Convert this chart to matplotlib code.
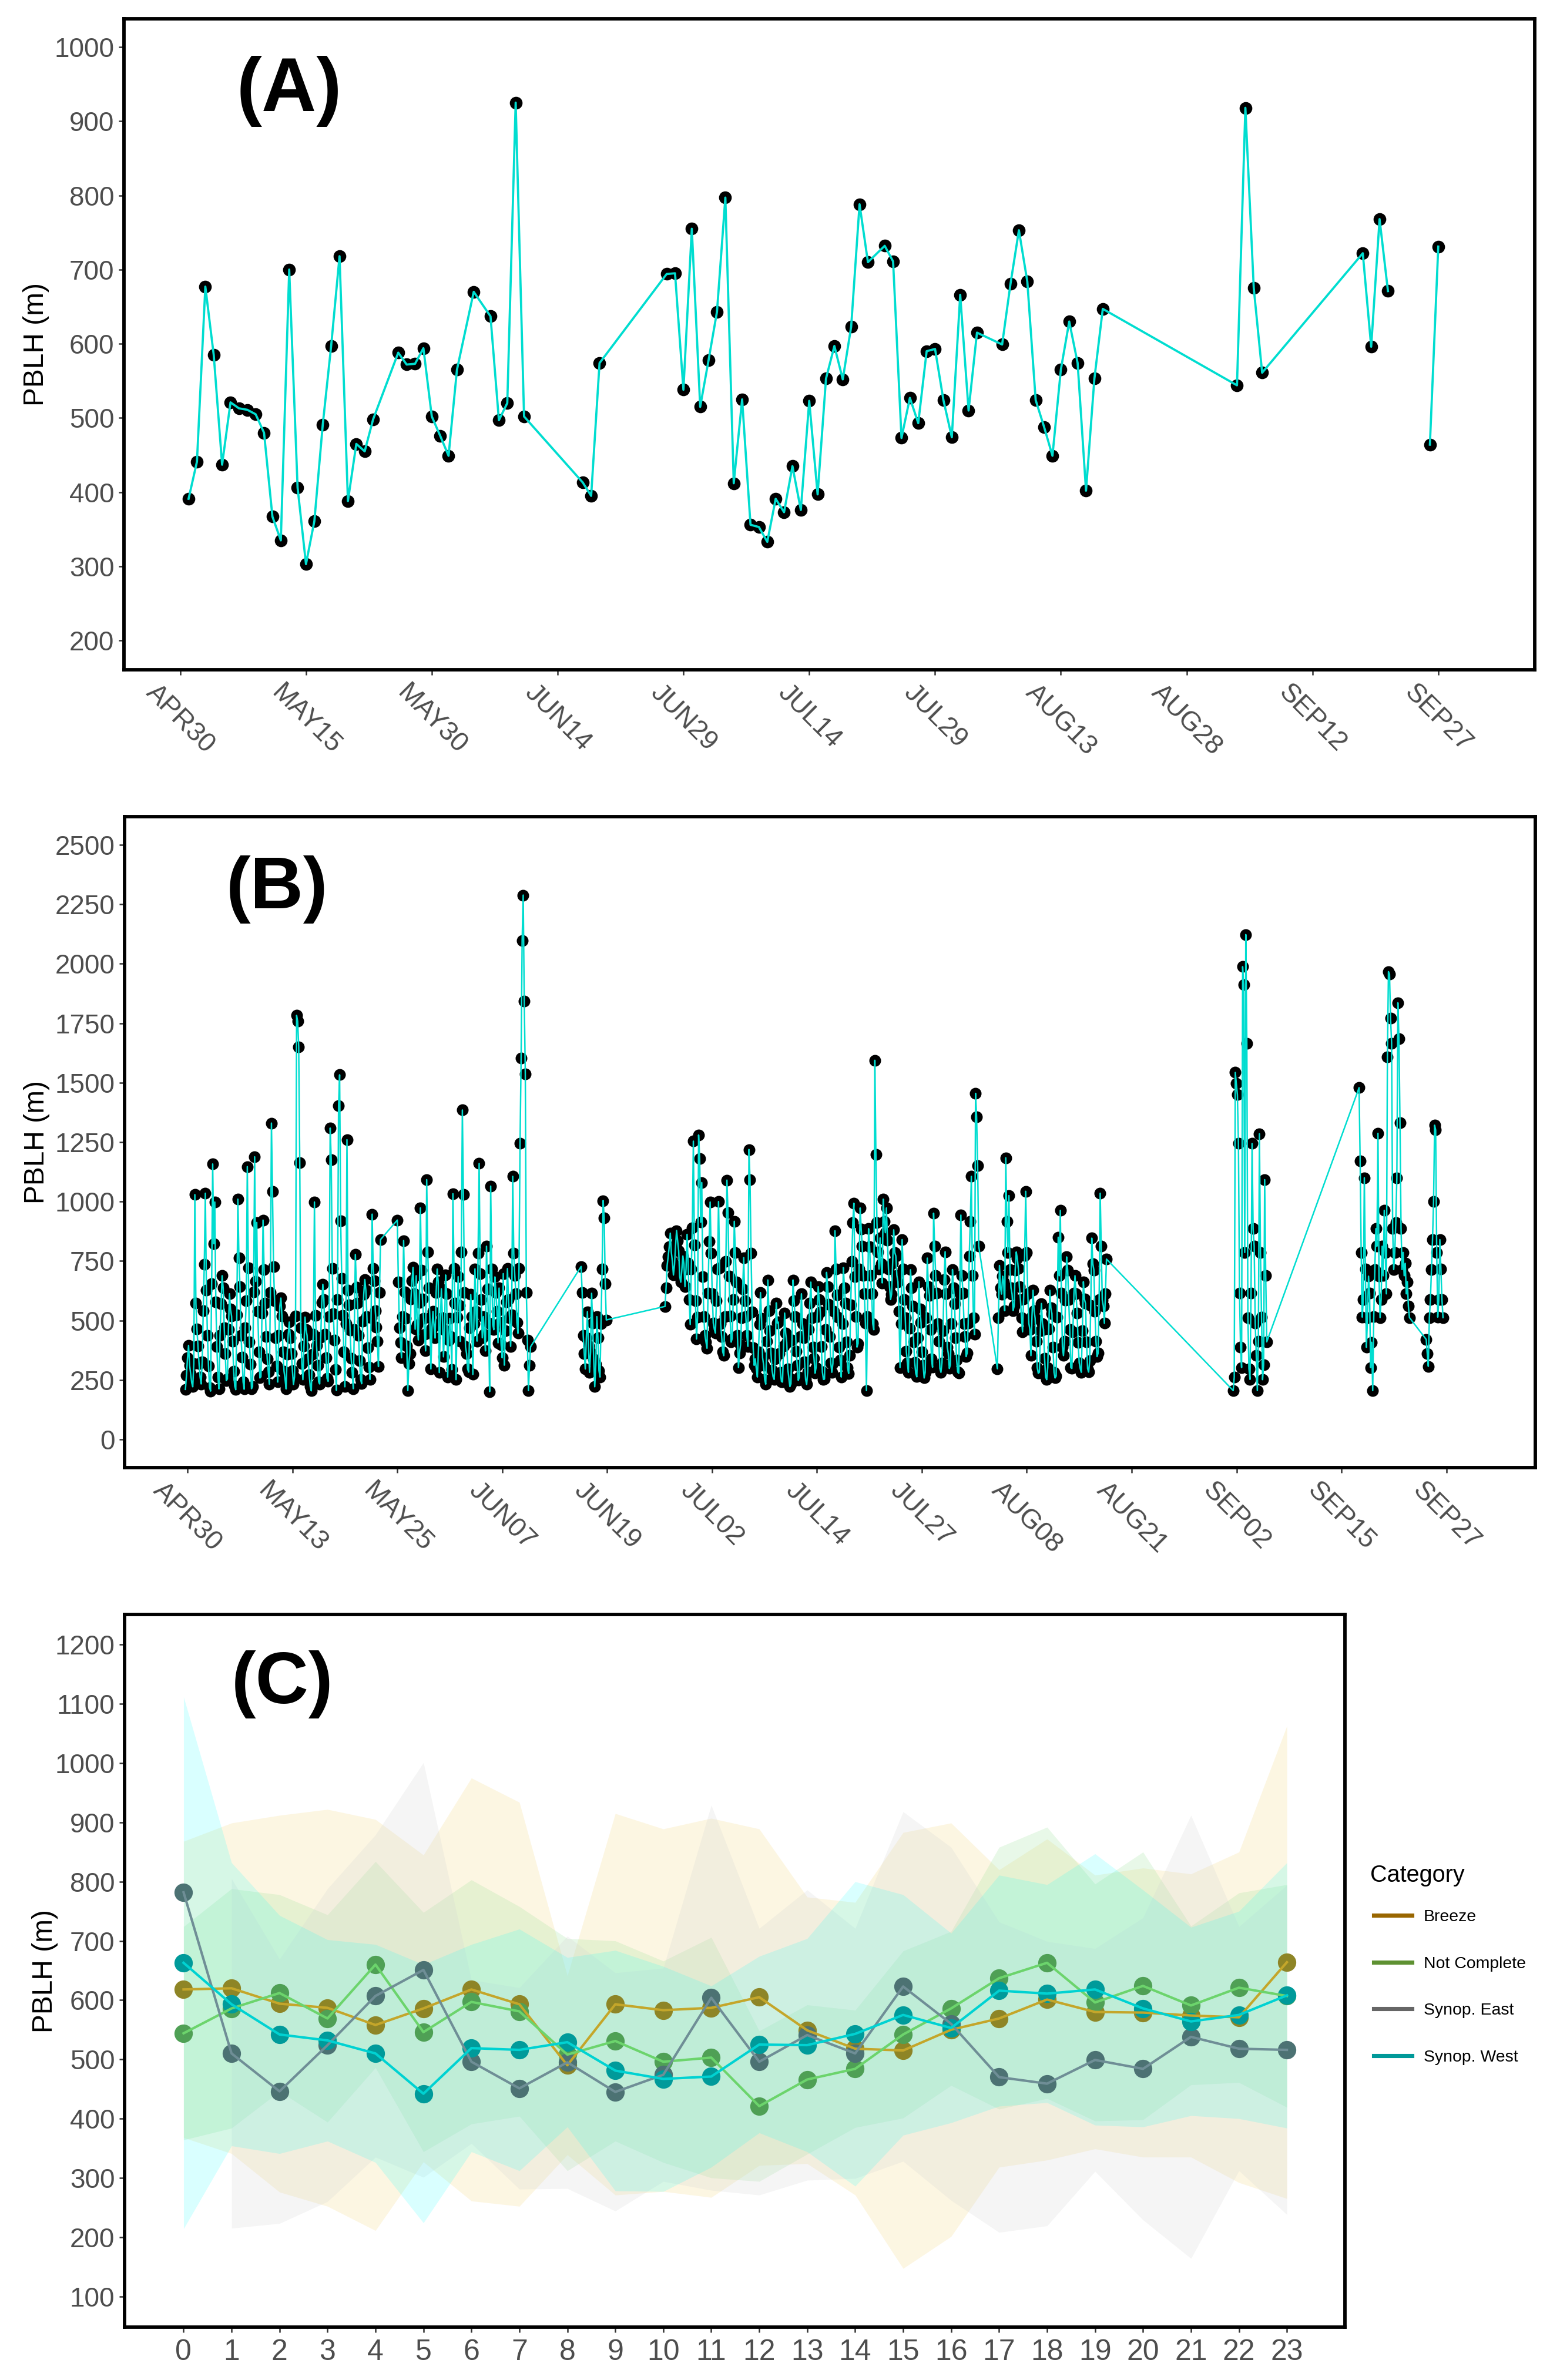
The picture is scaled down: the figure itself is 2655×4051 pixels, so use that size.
import numpy as np
import matplotlib
matplotlib.use('Agg')
import matplotlib.pyplot as plt
from matplotlib.lines import Line2D

plt.rcParams['font.family'] = ['Liberation Sans', 'DejaVu Sans']

W, H, DPI = 2655, 4051, 300

# ---------------- panel A: daily PBLH (days after APR30) ----------------
a_day = [1, 2, 3, 4, 5, 6, 7, 8, 9, 10, 11, 12, 13, 14, 15, 16, 17, 18, 19, 20, 21, 22, 23,
         26, 27, 28, 29, 30, 31, 32, 33,
         35, 37, 38, 39, 40, 41,
         48, 49, 50,
         58, 59, 60, 61, 62, 63, 64, 65, 66, 67, 68, 69, 70, 71, 72, 73, 74, 75, 76, 77, 78,
         79, 80, 81, 82,
         84, 85, 86, 87, 88, 89, 90, 91, 92, 93, 94, 95,
         98, 99, 100, 101, 102, 103, 104, 105, 106, 107, 108, 109, 110,
         126, 127, 128, 129,
         141, 142, 143, 144, 146,
         149, 150]
a_pblh = [391, 441, 677, 585, 437, 521, 513, 511, 505, 480, 367, 335, 700, 406, 303, 361, 491, 597,
          718, 388, 465, 455, 498,
          588, 572, 573, 594, 502, 476, 449, 565,
          670, 637, 497, 520, 925, 502,
          413, 395, 574,
          694, 695, 538, 755, 515, 578, 643, 797, 412, 525, 356, 353, 333, 391, 373, 435, 376,
          523, 397, 553, 597, 552, 623, 788, 710,
          732, 711, 473, 527, 493, 590, 593, 524, 474, 666, 510, 615,
          599, 681, 753, 684, 524, 488, 449, 565, 630, 574, 402, 553, 647,
          544, 918, 675, 561,
          722, 596, 768, 671, np.nan,
          464, 731]
a_tick_labels = ['APR30', 'MAY15', 'MAY30', 'JUN14', 'JUN29', 'JUL14', 'JUL29',
                 'AUG13', 'AUG28', 'SEP12', 'SEP27']

# ---------------- panel B: 3-hourly PBLH, one list per block of data ----------------
b_seg1 = [210, 268, 342, 395, 311, 276, 238, 221,
          318, 1029, 572, 463, 392, 318, 262, 233,
          327, 541, 736, 1035, 628, 436, 308, 218,
          203, 655, 1158, 823, 998, 577, 389, 262,
          212, 437, 571, 688, 636, 469, 361, 247,
          254, 461, 612, 547, 518, 413, 287, 224,
          209, 523, 1010, 764, 642, 437, 346, 241,
          211, 468, 583, 1147, 721, 409, 316, 213,
          222, 621, 1188, 664, 912, 538, 367, 258,
          263, 531, 922, 713, 574, 432, 337, 283,
          232, 617, 1330, 1043, 726, 583, 427, 309,
          241, 436, 561, 594, 519, 368, 287, 253,
          212, 358, 441, 493, 428, 361, 289, 231,
          262, 519, 1783, 1758, 1651, 1164, 468, 318,
          251, 392, 514, 461, 437, 339, 271, 223,
          204, 357, 443, 998, 521, 396, 312, 242,
          233, 429, 576, 652, 587, 441, 343, 257,
          244, 516, 1309, 1176, 719, 528, 416, 293,
          206, 588, 1404, 1533, 918, 676, 522, 368,
          221, 487, 1260, 627, 566, 459, 341, 281,
          213, 462, 777, 639, 573, 438, 331, 252,
          234, 496, 611, 672, 628, 517, 384, 303,
          252, 511, 947, 718, 667, 541, 472, 413,
          306, 618, 840]
b_seg2 = [922, 663, 468, 407,
          343, 517, 836, 621, 509, 392, 205, 318,
          361, 589, 668, 723, 612, 463, 688, 482,
          418, 576, 973, 711, 589, 508, 441, 372,
          1092, 788, 637, 512, 296, 467, 538, 476,
          426, 617, 716, 663, 281, 489, 633, 512,
          347, 459, 691, 612, 262, 417, 508, 431,
          293, 1033, 718, 573, 251, 514, 684, 562,
          412, 788, 1385, 1029, 617, 389, 361, 296,
          283, 468, 609, 517, 273, 486, 717, 539,
          413, 783, 1160, 696, 587, 427, 516, 441,
          372, 812, 633, 489, 201, 1065, 716, 482,
          461, 683, 617, 538, 406, 636, 492, 397,
          343, 697, 312, 458, 577, 718, 587, 511,
          391, 523, 1106, 782, 688, 612, 491, 446,
          718, 1246, 1604, 2098, 2289, 1844, 1537, 618,
          417, 205, 312, 389]
b_seg3 = [727, 618, 437, 361, 296, 426, 537, 392, 282, 366, 614, 488, 338, 221, 317, 516,
          427, 289, 262, 487, 716, 1004, 932, 655, 502]
b_seg4 = [559, 638, 731, 769, 810, 867, 786, 748,
          691, 733, 812, 878, 836, 793, 684, 661,
          712, 771, 738, 642, 716, 862, 741, 588,
          483, 716, 889, 1254, 817, 583, 422, 514,
          1280, 1182, 913, 1080, 684, 517, 438, 411,
          383, 616, 833, 998, 784, 612, 489, 463,
          447, 583, 716, 1000, 721, 486, 431, 368,
          352, 517, 748, 1090, 953, 686, 518, 409,
          423, 588, 917, 786, 663, 437, 302, 362,
          398, 512, 631, 764, 583, 516, 436, 391,
          1219, 1092, 783, 537, 386, 311, 338, 298,
          262, 367, 484, 617, 508, 343, 312, 251,
          232, 412, 670, 541, 456, 362, 291, 263,
          252, 338, 574, 489, 493, 361, 282, 243,
          241, 393, 531, 447, 408, 296, 258, 222,
          233, 417, 670, 584, 516, 371, 311, 248,
          261, 431, 612, 486, 427, 327, 252, 231,
          283, 462, 573, 661, 512, 388, 341, 278,
          302, 516, 642, 587, 536, 389, 283, 252,
          253, 461, 702, 641, 569, 431, 321, 282,
          318, 539, 877, 716, 607, 514, 387, 332,
          262, 486, 722, 638, 574, 411, 302, 277,
          352, 566, 748, 912, 993, 683, 516, 388,
          403, 716, 973, 884, 812, 688, 613, 489,
          205, 517, 886, 811, 688, 612, 486, 461,
          1594, 1197, 912, 788, 716, 847, 739, 658,
          1010, 917, 869, 973, 838, 716, 641, 588,
          611, 742, 881, 786, 771, 689, 663, 538,
          302, 486, 840, 716, 588, 512, 371, 322,
          282, 466, 713, 638, 561, 409, 323, 278,
          263, 427, 663, 549, 491, 368, 312, 258,
          282, 511, 762, 641, 606, 462, 339, 303,
          951, 812, 688, 614, 487, 412, 298, 282,
          322, 458, 671, 789, 612, 388, 361, 298,
          313, 486, 714, 637, 571, 427, 332, 283,
          278, 612, 943, 688, 616, 487, 432, 348,
          363, 489, 771, 916, 1106, 688, 512, 441,
          1455, 1356, 1152, 813]
b_seg5 = [297, 512, 731, 638, 611, 686, 662, 541,
          1184, 916, 786, 1025, 714, 637, 611, 542,
          560, 712, 788, 761, 718, 641, 588, 512,
          452, 589, 773, 1043, 786, 612, 488, 461,
          352, 516, 627, 541, 509, 412, 302, 278,
          282, 458, 571, 487, 462, 341, 262, 251,
          302, 464, 627, 552, 529, 388, 282, 258,
          266, 514, 850, 688, 963, 614, 388, 352,
          413, 586, 767, 711, 588, 462, 302, 298,
          452, 614, 688, 612, 531, 408, 322, 297,
          282, 458, 663, 589, 572, 411, 297, 283,
          330, 562, 846, 738, 712, 539, 412, 348,
          362, 588, 1035, 812, 586, 561, 488, 612,
          758]
b_seg6 = [205, 262, 1543, 1496, 1449, 1244, 616, 387, 302, 1988, 1912, 786, 2123, 1666, 512,
          297, 252, 614, 1244, 886, 812, 488, 352, 205, 413, 1285, 786, 514, 251, 313, 1092,
          688, 410]
b_seg7 = [1479, 1172, 786, 514, 588, 1100, 716, 387, 512, 686, 614, 302, 408, 205, 516, 714,
          886, 812, 1287, 686, 512, 588, 812, 688, 963, 786, 612, 1608, 1967, 1957, 1772, 1666,
          886, 714, 786, 912, 1100, 1836, 1686, 1332, 886, 714, 786, 688, 740, 612, 663, 560,
          512]
b_seg8 = [420, 361, 307, 512, 588, 714, 840, 1000, 1321, 1301, 786, 514, 588, 840, 716, 588,
          512]
b_start = [0.25, 25.5, 47.4, 57.4, 97.0, 125.1, 140.1, 148.1]
b_step = 0.125
b_tick_labels = ['APR30', 'MAY13', 'MAY25', 'JUN07', 'JUN19', 'JUL02', 'JUL14', 'JUL27',
                 'AUG08', 'AUG21', 'SEP02', 'SEP15', 'SEP27']

# ---------------- panel C: hourly mean +- sd per category ----------------
hours = list(range(24))
categories = ['Breeze', 'Not Complete', 'Synop. East', 'Synop. West']
mean_breeze = [618, 620, 594, 587, 558, 586, 618, 593, 490, 593, 583, 587, 605, 549, 518, 515,
               550, 569, 601, 580, 579, 574, 571, 664]
sd_breeze = [250, 279, 318, 335, 347, 259, 357, 341, 151, 322, 306, 320, 284, 225, 247, 368,
             349, 251, 271, 231, 244, 239, 279, 399]
mean_notc = [544, 586, 612, 569, 660, 546, 597, 581, 508, 531, 496, 503, 421, 466, 484, 542,
             586, 637, 663, 596, 624, 591, 621, 607]
sd_notc = [180, 202, 166, 175, 174, 202, 206, 177, 196, 169, 170, 203, 127, 126, 99, 141,
           130, 221, 229, 200, 226, 134, 160, 188]
mean_east = [782, 510, 446, 524, 607, 651, 496, 451, 495, 445, 474, 604, 496, 541, 510, 623,
             560, 470, 459, 499, 484, 538, 518, 516]
sd_east = [np.nan, 295, 223, 264, 272, 350, 138, 170, 213, 201, 180, 325, 225, 245, 211, 295,
           298, 262, 240, 188, 255, 374, 206, 278]
mean_west = [663, 593, 542, 532, 510, 442, 519, 516, 529, 481, 467, 471, 525, 524, 543, 575,
             553, 616, 611, 618, 586, 564, 575, 608]
sd_west = [449, 239, 201, 170, 184, 218, 175, 204, 143, 203, 190, 153, 149, 180, 257, 203,
           160, 195, 184, 229, 200, 159, 175, 224]

legend_colors = ['#996600', '#5E9132', '#666666', '#009999']
line_colors = ['#C4A62A', '#6CD46C', '#6F8E96', '#00D2D2']
point_colors = ['#8E8526', '#4FA055', '#4C7273', '#009A9A']
fill_colors = ['#F7DC8F', '#8EE08E', '#D2D2D2', '#00FFFF']
fill_alpha = [0.25, 0.2, 0.22, 0.15]

CYAN = '#00DDD0'
TICK_GREY = '#4D4D4D'


def px_axes(fig, left, top, right, bottom):
    return fig.add_axes([left / W, 1 - bottom / H, (right - left) / W, (bottom - top) / H])


def style(ax):
    for s in ax.spines.values():
        s.set_linewidth(1.4)
        s.set_color('black')
    ax.tick_params(direction='out', length=2.2, width=0.6, color='#333333',
                   labelcolor=TICK_GREY, labelsize=11, pad=1.8)


fig = plt.figure(figsize=(W / DPI, H / DPI), dpi=DPI)

# ---- (A) ----
axA = px_axes(fig, 211, 32, 2612, 1140)
axA.plot(a_day, a_pblh, 'o', ms=4.2, color='black', zorder=2)
axA.plot(a_day, a_pblh, color=CYAN, lw=0.9, zorder=3)
axA.set_xlim(-6.7, 161.5)
axA.set_ylim(160.6, 1038)
axA.set_yticks(range(200, 1001, 100))
axA.set_xticks(np.arange(0, 151, 15))
axA.set_xticklabels(a_tick_labels, rotation=-45, ha='center', va='top', fontsize=13)
style(axA)
axA.set_ylabel('PBLH (m)', fontsize=11.5)
axA.yaxis.set_label_coords(-0.053, 0.5)
axA.text(0.08, 0.858, '(A)', transform=axA.transAxes, fontsize=31,
         fontweight='bold', va='baseline', ha='left')

# ---- (B) ----
b_segs = [b_seg1, b_seg2, b_seg3, b_seg4, b_seg5, b_seg6, b_seg7, b_seg8]
b_t = np.concatenate([s + b_step * np.arange(len(v)) for s, v in zip(b_start, b_segs)])
b_v = np.concatenate([np.asarray(v, float) for v in b_segs])
axB = px_axes(fig, 212, 1390, 2613, 2498)
axB.plot(b_t, b_v, 'o', ms=3.8, color='black', zorder=2)
axB.plot(b_t, b_v, color=CYAN, lw=0.6, zorder=3)
axB.set_xlim(-7.0, 161.1)
axB.set_ylim(-119, 2619)
axB.set_yticks(range(0, 2501, 250))
axB.set_xticks(0.5 + 12.5 * np.arange(len(b_tick_labels)))
axB.set_xticklabels(b_tick_labels, rotation=-45, ha='center', va='top', fontsize=13)
style(axB)
axB.set_ylabel('PBLH (m)', fontsize=11.5)
axB.yaxis.set_label_coords(-0.053, 0.5)
axB.text(0.072, 0.859, '(B)', transform=axB.transAxes, fontsize=30,
         fontweight='bold', va='baseline', ha='left')

# ---- (C) ----
axC = px_axes(fig, 212, 2748, 2289, 3961)
means = [mean_breeze, mean_notc, mean_east, mean_west]
sds = [sd_breeze, sd_notc, sd_east, sd_west]
for i in range(4):
    m = np.asarray(means[i], float)
    s = np.asarray(sds[i], float)
    axC.fill_between(hours, m - s, m + s, color=fill_colors[i], alpha=fill_alpha[i],
                     lw=0, zorder=2)
for i in range(4):
    axC.plot(hours, means[i], 'o', ms=6.5, color=point_colors[i], zorder=3)
for i in range(4):
    axC.plot(hours, means[i], color=line_colors[i], lw=1.0, zorder=4)
axC.set_xlim(-1.23, 24.21)
axC.set_ylim(48, 1251)
axC.set_yticks(range(100, 1201, 100))
axC.set_xticks(hours)
style(axC)
axC.tick_params(axis='x', labelsize=12, pad=2.5)
axC.set_ylabel('PBLH (m)', fontsize=11.5)
axC.yaxis.set_label_coords(-0.0545, 0.5)
axC.text(0.0876, 0.8755, '(C)', transform=axC.transAxes, fontsize=30,
         fontweight='bold', va='baseline', ha='left')

# legend drawn by hand to match the reference spacing
fig.text(2332 / W, 1 - 3203 / H, 'Category', fontsize=9.5, ha='left', va='baseline')
for i, lab in enumerate(categories):
    y = 1 - (3260 + 79.7 * i) / H
    fig.add_artist(Line2D([2338 / W, 2403 / W], [y, y], color=legend_colors[i], lw=1.7))
    fig.text(2423 / W, y, lab, fontsize=6.8, ha='left', va='center_baseline')

fig.savefig('out.png', dpi=DPI)
